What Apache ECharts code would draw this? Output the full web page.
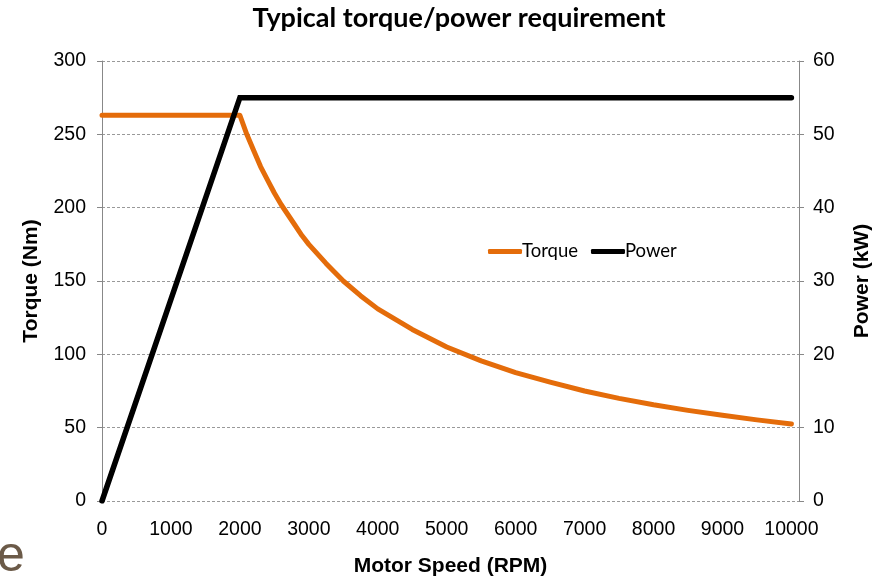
<!DOCTYPE html>
<html>
<head>
<meta charset="utf-8">
<script src="https://cdn.jsdelivr.net/npm/echarts@6/dist/echarts.min.js"></script>
<style>html,body{margin:0;padding:0;background:#fff}#c{width:882px;height:577px}</style>
</head>
<body>
<div id="c"></div>
<script>
const speedRpm = [0, 1000, 2000, 2100, 2200, 2300, 2400, 2500, 2600, 2700, 2800, 2900, 3000, 3250, 3500, 3750, 4000, 4500, 5000, 5500, 6000, 6500, 7000, 7500, 8000, 8500, 9000, 9500, 10000];
const torqueNm = [263, 263, 263, 250, 239, 228, 219, 210, 202, 195, 188, 181, 175, 162, 150, 140, 131, 117, 105, 95.5, 87.5, 81, 75, 70, 65.6, 61.8, 58.4, 55.3, 52.5];
const powerSpeedRpm = [0, 2000, 10000];
const powerKw = [0, 55, 55];
const seriesNames = ['Torque', 'Power'];
const titleText = 'Typical torque/power requirement';
const xAxisTitle = 'Motor Speed (RPM)';
const leftAxisTitle = 'Torque (Nm)';
const rightAxisTitle = 'Power (kW)';

const chart = echarts.init(document.getElementById('c'));
const LS = 'Liberation Sans';
const axisFont = {fontFamily: LS, fontSize: 19.5, color: '#000'};
const nameFont = {fontFamily: LS, fontWeight: 'bold', fontSize: 21, color: '#000'};
chart.setOption({
  animation: false,
  backgroundColor: '#fff',
  textStyle: {fontFamily: LS},
  title: {text: titleText, left: 454, top: 0, textAlign: 'center',
    textStyle: {fontFamily: 'Lato', fontWeight: 'bold', fontSize: 27, color: '#000'}},
  legend: {left: 483, top: 237, itemWidth: 34, itemHeight: 5, itemGap: 13,
    data: seriesNames, icon: 'roundRect',
    textStyle: {fontFamily: 'Lato', fontSize: 18.5, color: '#000', padding: [0, 0, 0, -5]}},
  grid: {left: 102, right: 83, top: 61, bottom: 76, containLabel: false, outerBoundsMode: 'none'},
  xAxis: {type: 'value', min: 0, max: 10110, interval: 1000,
    name: xAxisTitle, nameLocation: 'middle', nameGap: 55, nameTextStyle: nameFont,
    axisLine: {show: false}, axisTick: {show: false}, splitLine: {show: false},
    axisLabel: Object.assign({margin: 19, showMaxLabel: false,
      formatter: v => (v % 1000 === 0 ? String(v) : '')}, axisFont)},
  yAxis: [
    {type: 'value', min: 0, max: 300, interval: 50, position: 'left',
      name: leftAxisTitle, nameLocation: 'middle', nameGap: 60, nameRotate: 90, nameTextStyle: nameFont,
      axisLine: {show: true, lineStyle: {color: '#888', width: 1}},
      axisTick: {show: true, inside: false, length: 5, lineStyle: {color: '#888'}},
      splitLine: {show: true, lineStyle: {color: '#999', type: [3, 2], width: 1}},
      axisLabel: Object.assign({margin: 16, formatter: v => String(v)}, axisFont)},
    {type: 'value', min: 0, max: 60, interval: 10, position: 'right',
      name: rightAxisTitle, nameLocation: 'middle', nameGap: 53, nameRotate: 90, nameTextStyle: nameFont,
      axisLine: {show: true, lineStyle: {color: '#888', width: 1}},
      axisTick: {show: true, length: 5, lineStyle: {color: '#888'}},
      splitLine: {show: false},
      axisLabel: Object.assign({margin: 14, formatter: v => String(v)}, axisFont)}
  ],
  series: [
    {name: seriesNames[0], type: 'line', yAxisIndex: 0, symbol: 'none', smooth: false,
      data: speedRpm.map((s, i) => [s, torqueNm[i]]),
      lineStyle: {color: '#E46C0A', width: 5, cap: 'round', join: 'round'},
      itemStyle: {color: '#E46C0A'}},
    {name: seriesNames[1], type: 'line', yAxisIndex: 1, symbol: 'none',
      data: powerSpeedRpm.map((s, i) => [s, powerKw[i]]),
      lineStyle: {color: '#000', width: 5.5, cap: 'round', join: 'miter'},
      itemStyle: {color: '#000'}}
  ],
  graphic: [
    {type: 'text', left: -3, top: 532,
      style: {text: 'e', fontFamily: LS, fontSize: 50, fill: '#6b5a48'}}
  ]
});
</script>
</body>
</html>
